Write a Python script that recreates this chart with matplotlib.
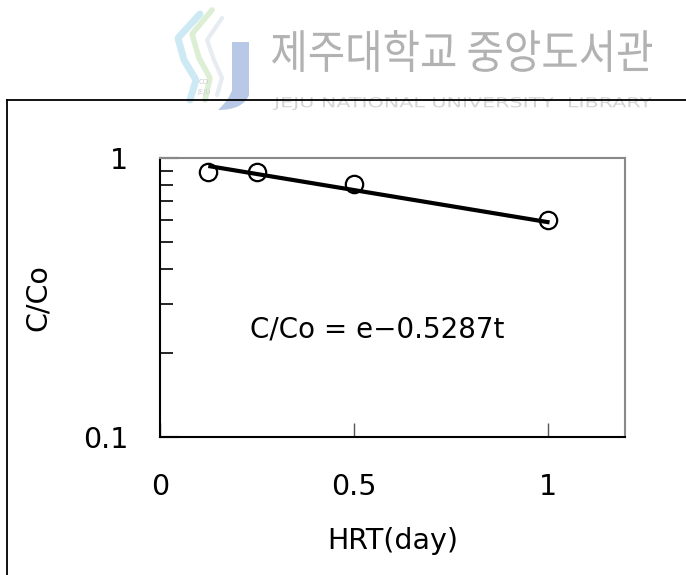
import numpy as np
import matplotlib
matplotlib.use("Agg")
import matplotlib.pyplot as plt
from matplotlib.patches import PathPatch
from matplotlib.path import Path
from matplotlib.lines import Line2D
from matplotlib.textpath import TextPath
from matplotlib.font_manager import FontProperties
from matplotlib.transforms import Affine2D, IdentityTransform
from matplotlib.ticker import FixedLocator, FixedFormatter, NullFormatter

plt.rcParams['font.family'] = ['DejaVu Sans', 'Noto Sans CJK KR']

# data
hrt_days = [0.125, 0.25, 0.5, 1.0]
c_over_co = [0.89, 0.89, 0.81, 0.60]
rate_k = 0.5287
fit_t = [0.13, 1.0]
x_ticks = [0, 0.5, 1]
x_tick_labels = ["0", "0.5", "1"]
y_ticks = [0.1, 1]
y_tick_labels = ["0.1", "1"]
y_minor = [0.2, 0.3, 0.4, 0.5, 0.6, 0.7, 0.8, 0.9]
x_label = "HRT(day)"
y_label = "C/Co"
equation = "C/Co = e\u22120.5287t"
wm_kr = "제주대학교 중앙도서관"
wm_en = "JEJU NATIONAL UNIVERSITY  LIBRARY"

W, H = 686, 575
fig = plt.figure(figsize=(W / 100, H / 100), dpi=100)

def fx(px):
    return px / W

def fy(py):
    return 1 - py / H

# ---- watermark (text fitted into boxes) ----
def fit_text(s, x0, x1, ytop, ybot, family, color, zorder=0):
    tp = TextPath((0, 0), s, size=40, prop=FontProperties(family=family))
    ext = tp.get_extents()
    sx = (x1 - x0) / ext.width
    sy = (ybot - ytop) / ext.height
    tr = Affine2D().translate(-ext.x0, -ext.y0).scale(sx, sy).translate(x0, H - ybot)
    patch = PathPatch(tr.transform_path(tp), transform=IdentityTransform(),
                      facecolor=color, edgecolor="none", zorder=zorder)
    fig.patches.append(patch)

fit_text(wm_kr, 272, 652, 30, 72, "Noto Sans CJK KR", "#b2b2b2")
fit_text(wm_en, 273, 652, 97, 110, "DejaVu Sans", "#d4d4d4")

def fig_path(pts, codes):
    return Path([(fx(x), fy(y)) for x, y in pts], codes)

jverts = [(232, 42), (249, 42), (249, 95), (243, 110), (218, 110),
          (229, 100), (232, 90), (232, 42)]
jcodes = [Path.MOVETO, Path.LINETO, Path.LINETO, Path.CURVE3, Path.CURVE3,
          Path.CURVE3, Path.CURVE3, Path.CLOSEPOLY]
fig.patches.append(PathPatch(fig_path(jverts, jcodes), transform=fig.transFigure,
                             facecolor="#b7c9e6", edgecolor="none", figure=fig))
for pts, col, lw in [
    ([(200, 14), (178, 38), (184, 60), (196, 80), (190, 100)], "#cde9f4", 5),
    ([(212, 10), (192, 34), (199, 58), (210, 78), (205, 100)], "#dcefd4", 4),
    ([(222, 18), (207, 40), (214, 60), (222, 78), (217, 95)], "#e6ecf2", 3),
]:
    xs = [fx(p[0]) for p in pts]
    ys = [fy(p[1]) for p in pts]
    xi = np.interp(np.linspace(0, len(xs) - 1, 60), range(len(xs)), xs)
    yi = np.interp(np.linspace(0, len(ys) - 1, 60), range(len(ys)), ys)
    fig.add_artist(Line2D(xi, yi, color=col, lw=lw, solid_capstyle="round"))
fig.text(fx(204), fy(82), "CO", fontsize=5, color="#cccccc", ha="center", va="center")
fig.text(fx(204), fy(92), "JEJU", fontsize=5, color="#cccccc", ha="center", va="center")

# ---- outer frame ----
fig.add_artist(Line2D([fx(7), fx(686)], [fy(100), fy(100)], color="black", lw=1.3))
fig.add_artist(Line2D([fx(7), fx(7)], [fy(100), fy(575)], color="black", lw=1.3))

# ---- axes ----
left, right, top, bottom = 160, 625, 158, 437
ax = fig.add_axes([fx(left), fy(bottom), (right - left) / W, (bottom - top) / H])
ax.set_yscale("log")
ax.set_xlim(0, 1.2)
ax.set_ylim(0.1, 1)

t_line = np.linspace(fit_t[0], fit_t[1], 50)
ax.plot(t_line, np.exp(-rate_k * t_line), color="black", lw=3.0, zorder=2)
ax.plot(hrt_days, c_over_co, linestyle="none", marker="o", markersize=12.5,
        markerfacecolor="none", markeredgecolor="black", markeredgewidth=1.6, zorder=3)

ax.xaxis.set_major_locator(FixedLocator(x_ticks))
ax.xaxis.set_major_formatter(FixedFormatter(x_tick_labels))
ax.yaxis.set_major_locator(FixedLocator(y_ticks))
ax.yaxis.set_major_formatter(FixedFormatter(y_tick_labels))
ax.yaxis.set_minor_locator(FixedLocator(y_minor))
ax.yaxis.set_minor_formatter(NullFormatter())
ax.xaxis.set_minor_locator(FixedLocator([]))

fs = 20.5
ax.tick_params(axis="x", which="major", direction="in", length=10, width=1,
               color="#555555", pad=26, labelsize=fs)
ax.tick_params(axis="y", which="major", direction="in", length=14, width=1.5,
               color="black", pad=23, labelsize=fs)
ax.tick_params(axis="y", which="minor", direction="in", length=9, width=1.2, color="black")

for s in ["left", "bottom"]:
    ax.spines[s].set_color("black")
    ax.spines[s].set_linewidth(1.5)
for s in ["top", "right"]:
    ax.spines[s].set_color("#888888")
    ax.spines[s].set_linewidth(1.5)

ax.set_xlabel(x_label, fontsize=fs)
ax.set_ylabel(y_label, fontsize=fs)
ax.xaxis.set_label_coords(0.5, (bottom - 527) / (bottom - top))
ax.yaxis.set_label_coords((52 - left) / (right - left), 0.5)

ax.text(0.56, 0.242, equation, fontsize=20, ha="center", va="center")

fig.savefig("out.png", dpi=100)
